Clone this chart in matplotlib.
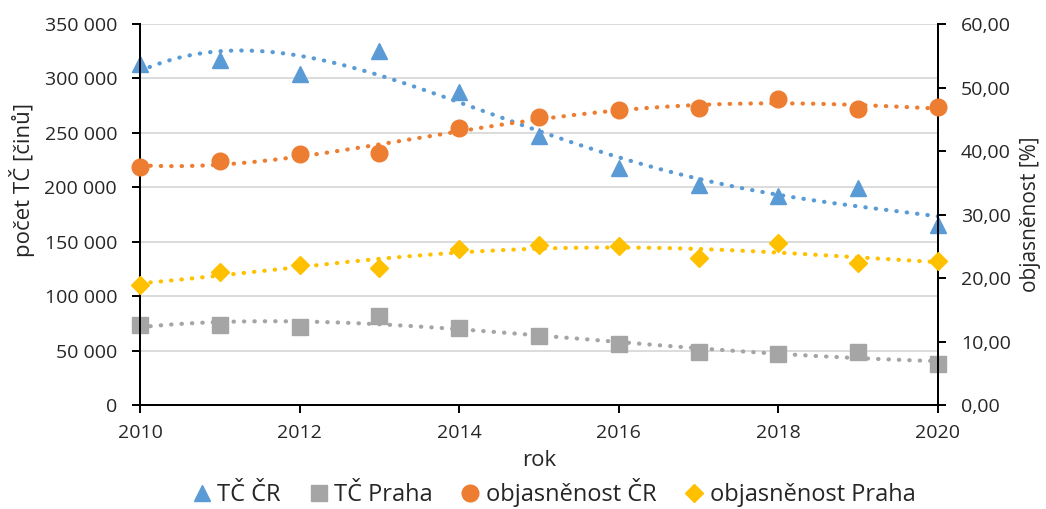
import numpy as np
import matplotlib.pyplot as plt
from matplotlib.ticker import FuncFormatter

years = [2010, 2011, 2012, 2013, 2014, 2015, 2016, 2017, 2018, 2019, 2020]
tc_cr = [313000, 317000, 304000, 325000, 287500, 247000, 217500, 202000, 192000, 199000, 165500]
tc_praha = [73500, 73500, 71700, 81800, 70700, 63400, 56000, 48700, 46900, 48700, 37700]
obj_cr = [37.5, 38.4, 39.5, 39.7, 43.6, 45.3, 46.5, 46.8, 48.2, 46.6, 46.9]
obj_praha = [18.9, 21.0, 22.0, 21.6, 24.6, 25.2, 25.0, 23.2, 25.5, 22.4, 22.7]

plt.rcParams['font.family'] = ['Open Sans', 'DejaVu Sans']

fig = plt.figure(figsize=(10.46, 5.09), dpi=100)
ax = fig.add_axes([0.1338, 0.2043, 0.7629, 0.7485])
ax2 = ax.twinx()

blue, gray, orange, yellow = '#5B9BD5', '#A5A5A5', '#ED7D31', '#FFC000'

def trend(a, x, y, color, order=4):
    # polynomial trendline like the spreadsheet one
    c = np.polyfit(x, y, order)
    xs = np.linspace(x[0], x[-1], 300)
    a.plot(xs, np.polyval(c, xs), color=color, lw=3, dashes=(0.1, 2.4),
           dash_capstyle='round', zorder=2)

x = np.array(years, dtype=float)
trend(ax, x, tc_cr, blue)
trend(ax, x, tc_praha, gray)
trend(ax2, x, obj_cr, orange)
trend(ax2, x, obj_praha, yellow)

h1, = ax.plot(years, tc_cr, ls='none', marker='^', ms=12, color=blue, clip_on=False, zorder=3)
h2, = ax.plot(years, tc_praha, ls='none', marker='s', ms=11.5, color=gray, clip_on=False, zorder=3)
h3, = ax2.plot(years, obj_cr, ls='none', marker='o', ms=12, color=orange, clip_on=False, zorder=3)
h4, = ax2.plot(years, obj_praha, ls='none', marker='D', ms=9, color=yellow, clip_on=False, zorder=3)

ax.set_xlim(2010, 2020)
ax.set_xticks(range(2010, 2021, 2))
ax.set_ylim(0, 350000)
ax.set_yticks(range(0, 350001, 50000))
ax.yaxis.set_major_formatter(FuncFormatter(lambda v, p: f'{int(v):,}'.replace(',', ' ')))
ax2.set_ylim(0, 60)
ax2.set_yticks(range(0, 61, 10))
ax2.yaxis.set_major_formatter(FuncFormatter(lambda v, p: f'{v:.2f}'.replace('.', ',')))

ax.grid(axis='y', color='#D9D9D9', lw=1.3)
ax.set_axisbelow(True)
for a in (ax, ax2):
    a.spines['top'].set_visible(False)
    for s in ('left', 'right', 'bottom'):
        a.spines[s].set_color('black')
        a.spines[s].set_linewidth(1.4)
    a.tick_params(labelsize=14, length=5.5, width=1.4, color='black',
                  direction='out', pad=11, labelcolor='#262626')
ax.tick_params(axis='x', pad=8)

ax.set_xlabel('rok', fontsize=16, color='#262626')
ax.xaxis.set_label_coords(0.5, -0.118)
ax.set_ylabel('počet TČ [činů]', fontsize=16, color='#262626')
ax.yaxis.set_label_coords(-0.131, 0.59)
ax2.set_ylabel('objasněnost [%]', fontsize=15, color='#262626')
ax2.yaxis.set_label_coords(1.103, 0.5)

fig.legend([h1, h2, h3, h4], ['TČ ČR', 'TČ Praha', 'objasněnost ČR', 'objasněnost Praha'],
           loc='center', bbox_to_anchor=(0.529, 0.032), ncol=4, frameon=False,
           fontsize=17, handletextpad=0.2, handlelength=0.9, columnspacing=1.15,
           markerscale=1.0, labelcolor='#262626')

fig.savefig('out.png', dpi=100)
